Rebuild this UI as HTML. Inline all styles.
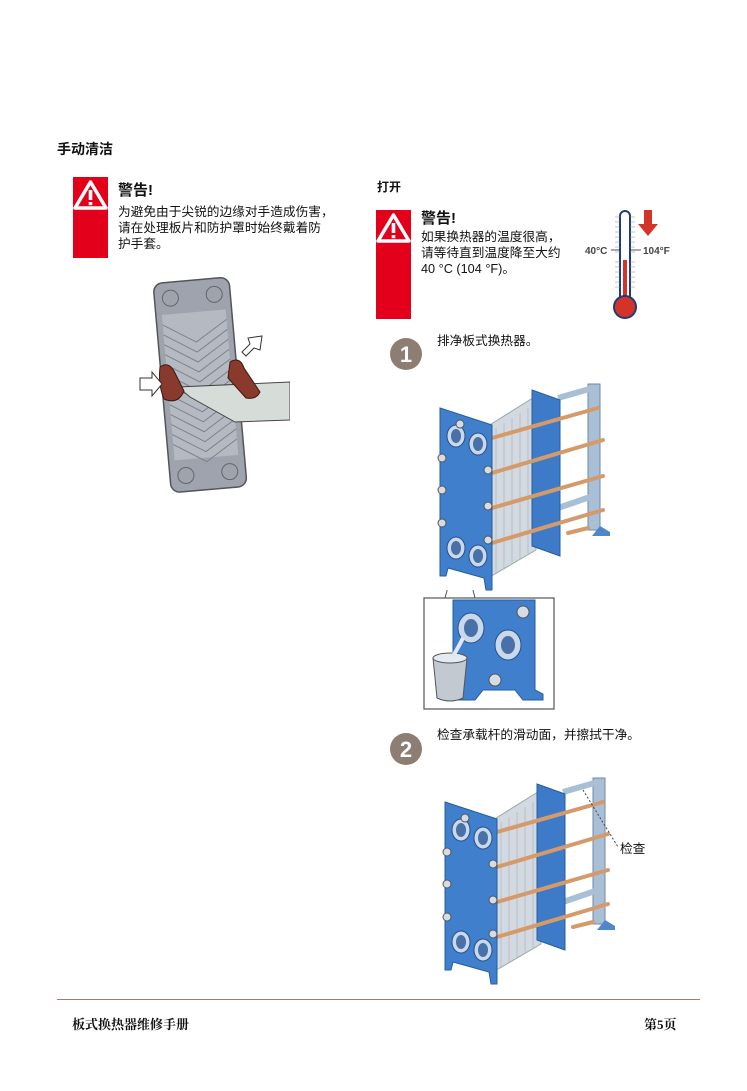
<!DOCTYPE html>
<html><head><meta charset="utf-8"><style>
body{margin:0;width:747px;height:1091px;background:#fff;position:relative;overflow:hidden;font-family:"Liberation Sans","Noto Sans CJK SC",sans-serif;color:#111}
.a{position:absolute;white-space:nowrap}
.red{position:absolute;background:#e3001b}
.t{font-size:12.7px;line-height:16px}
</style></head><body>
<div class="a" style="left:57px;top:139px;font-size:14px;font-weight:bold">手动清洁</div>

<div class="red" style="left:73px;top:177px;width:35px;height:81px"></div>
<svg class="a" style="left:73px;top:179px" width="35" height="32"><path d="M17.5 3 L33 29 L2 29 Z" fill="none" stroke="#fff" stroke-width="3.5" stroke-linejoin="round"/><rect x="15.7" y="11" width="3.6" height="10" fill="#fff"/><rect x="15.7" y="23" width="3.6" height="3.2" fill="#fff"/></svg>
<div class="a" style="left:118px;top:182px;font-size:15px;line-height:18px;font-weight:bold">警告!</div>
<div class="a t" style="left:118px;top:204px">为避免由于尖锐的边缘对手造成伤害，<br>请在处理板片和防护罩时始终戴着防<br>护手套。</div>

<svg class="a" style="left:130px;top:272px" width="160" height="230">
<g transform="rotate(-5 69 112)">
<rect x="32" y="8" width="76" height="210" rx="9" fill="#9ea3ad" stroke="#555" stroke-width="1.5"/>
<rect x="38" y="40" width="64" height="146" fill="#b5b9c1"/>
<g stroke="#7d828c" stroke-width="1">
<path d="M38 50 L70 70 L102 50 M38 60 L70 80 L102 60 M38 70 L70 90 L102 70 M38 80 L70 100 L102 80 M38 90 L70 110 L102 90 M38 100 L70 120 L102 100 M38 110 L70 130 L102 110 M38 120 L70 140 L102 120 M38 130 L70 150 L102 130 M38 140 L70 160 L102 140 M38 150 L70 170 L102 150 M38 160 L70 180 L102 160 M38 170 L70 190 L102 170" fill="none"/>
</g>
<circle cx="48" cy="24" r="8" fill="none" stroke="#666"/><circle cx="92" cy="24" r="8" fill="none" stroke="#666"/>
<circle cx="48" cy="202" r="8" fill="none" stroke="#666"/><circle cx="92" cy="202" r="8" fill="none" stroke="#666"/>
</g>
<path d="M48 115 L160 110 L160 148 L105 150 L60 125 Z" fill="#d6dcd8" stroke="#444"/>
<path d="M30 95 q8 -6 14 4 l10 20 q-6 14 -20 8 q-6 -14 -4 -32 Z" fill="#8a3a2c" stroke="#3a1a14"/>
<path d="M100 90 q10 -6 14 6 l16 24 q-4 8 -14 6 l-18 -20 Z" fill="#8a3a2c" stroke="#3a1a14"/>
<path d="M10 106 h12 v-6 l10 12 -10 12 v-6 h-12 Z" fill="#fff" stroke="#333"/>
<path d="M112 80 l8 -8 l-2 -6 l14 -2 l-2 14 l-6 -2 l-8 8 Z" fill="#fff" stroke="#333"/>
</svg>

<div class="a" style="left:377px;top:178px;font-size:12px;font-weight:bold">打开</div>
<div class="red" style="left:376px;top:210px;width:35px;height:109px"></div>
<svg class="a" style="left:376px;top:212px" width="35" height="32"><path d="M17.5 3 L33 29 L2 29 Z" fill="none" stroke="#fff" stroke-width="3.5" stroke-linejoin="round"/><rect x="15.7" y="11" width="3.6" height="10" fill="#fff"/><rect x="15.7" y="23" width="3.6" height="3.2" fill="#fff"/></svg>
<div class="a" style="left:421px;top:210px;font-size:15px;line-height:18px;font-weight:bold">警告!</div>
<div class="a t" style="left:421px;top:229px">如果换热器的温度很高，<br>请等待直到温度降至大约<br>40 °C (104 °F)。</div>

<svg class="a" style="left:585px;top:207px" width="95" height="115">
<rect x="35" y="4" width="10" height="90" rx="5" fill="#fff" stroke="#1f3c7a" stroke-width="2"/>
<rect x="38" y="53" width="4" height="45" fill="#d4332a"/>
<circle cx="40" cy="100" r="11" fill="#d4332a" stroke="#1f3c7a" stroke-width="2"/>
<g stroke="#888" stroke-width="0.6"><path d="M30 10h5M30 15h5M30 20h5M30 25h5M30 30h5M30 35h5M30 40h5M30 45h5M30 55h5M30 60h5M30 65h5M30 70h5M30 75h5M30 80h5M45 10h5M45 15h5M45 20h5M45 25h5M45 30h5M45 35h5M45 40h5M45 45h5M45 55h5M45 60h5M45 65h5M45 70h5M45 75h5M45 80h5"/></g>
<path d="M26 43 h8 M46 43 h10" stroke="#555"/>
<text x="0" y="47" font-size="10" font-weight="bold" fill="#444" font-family="Liberation Sans">40°C</text>
<text x="58" y="47" font-size="10" font-weight="bold" fill="#444" font-family="Liberation Sans">104°F</text>
<path d="M59 3 h8 v14 h6 l-10 12 -10 -12 h6 Z" fill="#d4332a"/>
</svg>

<svg class="a" style="left:389px;top:337px" width="36" height="36"><circle cx="17" cy="17" r="16" fill="#8d7d72"/><text x="17" y="25" text-anchor="middle" font-size="22" font-weight="bold" fill="#fff" font-family="Liberation Sans">1</text></svg>
<div class="a t" style="left:437px;top:333px">排净板式换热器。</div>

<svg width="0" height="0" style="position:absolute"><defs>
<g id="hx">
<path d="M160 6 h12 v146 h-12 Z" fill="#a9bfd6" stroke="#6f8aa8"/>
<path d="M172 148 l10 6 v4 h-18 Z" fill="#4f86c9"/>
<path d="M130 20 L165 10" stroke="#a9bfd6" stroke-width="6"/>
<path d="M130 130 L165 118" stroke="#a9bfd6" stroke-width="6"/>
<path d="M60 48 L108 18 L108 172 L60 200 Z" fill="#d3d9e0" stroke="#9aa"/>
<g stroke="#b8c0c9" stroke-width="1"><path d="M68 50 V195 M76 45 V190 M84 40 V186 M92 35 V181 M100 30 V176"/></g>
<path d="M104 12 L132 22 L132 178 L104 168 Z" fill="#3d7bc9" stroke="#265c9f"/>
<g stroke="#d59a6a" stroke-width="4" stroke-linecap="round">
<path d="M64 60 L170 30"/><path d="M64 95 L175 62"/><path d="M64 130 L175 98"/><path d="M64 165 L175 132"/><path d="M140 155 L160 150"/>
</g>
<path d="M12 30 L64 47 L64 212 L58 212 L56 200 L20 190 L18 198 L12 198 Z" fill="#3f7fcc" stroke="#265c9f"/>
<g fill="#c9d8ea" stroke="#28508a">
<ellipse cx="28" cy="58" rx="9" ry="11"/><ellipse cx="50" cy="66" rx="9" ry="11"/>
<ellipse cx="28" cy="170" rx="9" ry="11"/><ellipse cx="50" cy="178" rx="9" ry="11"/>
</g>
<g fill="#4a70a8"><ellipse cx="28" cy="58" rx="5" ry="7"/><ellipse cx="50" cy="66" rx="5" ry="7"/><ellipse cx="28" cy="170" rx="5" ry="7"/><ellipse cx="50" cy="178" rx="5" ry="7"/></g>
<g fill="#d4dce6" stroke="#555"><circle cx="14" cy="80" r="4"/><circle cx="14" cy="112" r="4"/><circle cx="14" cy="145" r="4"/><circle cx="60" cy="92" r="4"/><circle cx="60" cy="128" r="4"/><circle cx="60" cy="162" r="4"/><circle cx="32" cy="46" r="4"/></g>
</g></defs></svg>

<svg class="a" style="left:428px;top:378px" width="190" height="220"><use href="#hx"/></svg>
<svg class="a" style="left:423px;top:590px" width="135" height="122">
<path d="M35 -40 L22 8 M40 -40 L52 8" stroke="#555" fill="none"/>
<rect x="1" y="8" width="130" height="111" fill="#fff" stroke="#555" stroke-width="1.2"/>
<path d="M30 10 H112 V100 L120 104 V110 H100 L92 100 H60 L52 110 H30 Z" fill="#3f7fcc" stroke="#265c9f"/>
<ellipse cx="48" cy="38" rx="13" ry="15" fill="#c9d8ea" stroke="#28508a"/><ellipse cx="48" cy="38" rx="7" ry="9" fill="#4a70a8"/>
<ellipse cx="85" cy="55" rx="13" ry="15" fill="#c9d8ea" stroke="#28508a"/><ellipse cx="85" cy="55" rx="7" ry="9" fill="#4a70a8"/>
<circle cx="100" cy="22" r="6" fill="#d4dce6" stroke="#555"/><circle cx="72" cy="90" r="6" fill="#d4dce6" stroke="#555"/>
<path d="M10 68 L44 68 L40 108 Q27 114 14 108 Z" fill="#c2c9d1" stroke="#555"/>
<ellipse cx="27" cy="68" rx="17" ry="5" fill="#e3eaf1" stroke="#555"/>
<path d="M40 48 Q35 58 30 66" stroke="#dfe9f5" stroke-width="4" fill="none"/>
</svg>

<svg class="a" style="left:389px;top:732px" width="36" height="36"><circle cx="17" cy="17" r="16" fill="#8d7d72"/><text x="17" y="25" text-anchor="middle" font-size="22" font-weight="bold" fill="#fff" font-family="Liberation Sans">2</text></svg>
<div class="a t" style="left:437px;top:727px">检查承载杆的滑动面，并擦拭干净。</div>

<svg class="a" style="left:433px;top:772px" width="190" height="220"><use href="#hx"/><path d="M150 18 L185 75" stroke="#444" stroke-dasharray="2 2" fill="none"/></svg>
<div class="a t" style="left:620px;top:841px">检查</div>

<div class="a" style="left:57px;top:999px;width:643px;height:1px;background:#9a8070"></div>
<div class="a" style="left:72px;top:1014px;font-size:13px;font-weight:bold;font-family:'Liberation Serif','Noto Serif CJK SC',serif">板式换热器维修手册</div>
<div class="a" style="left:644px;top:1014px;font-size:13px;font-weight:bold;font-family:'Liberation Serif','Noto Serif CJK SC',serif">第5页</div>
</body></html>
